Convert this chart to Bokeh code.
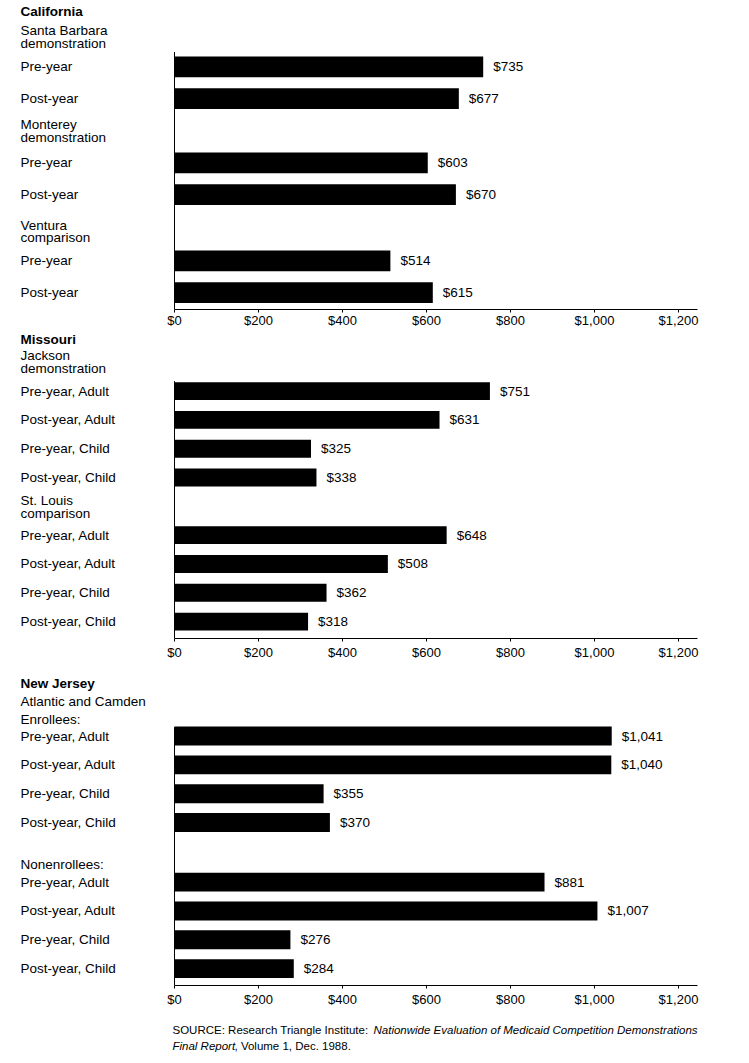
from bokeh.plotting import figure
from bokeh.layouts import column
from bokeh.models import Range1d, LinearAxis, NumeralTickFormatter, FixedTicker, ColumnDataSource
from bokeh.core.properties import value
from bokeh.embed import file_html
from bokeh.resources import INLINE

# ---------------- data ----------------
CA_TITLE = "California"
CA_GROUPS = [["Santa Barbara", "demonstration"], ["Monterey", "demonstration"], ["Ventura", "comparison"]]
CA_CATS = ["Pre-year", "Post-year"]
CA_VALUES = [[735, 677], [603, 670], [514, 615]]

MO_TITLE = "Missouri"
MO_GROUPS = [["Jackson", "demonstration"], ["St. Louis", "comparison"]]
MO_CATS = ["Pre-year, Adult", "Post-year, Adult", "Pre-year, Child", "Post-year, Child"]
MO_VALUES = [[751, 631, 325, 338], [648, 508, 362, 318]]

NJ_TITLE = "New Jersey"
NJ_SUBTITLE = "Atlantic and Camden"
NJ_GROUPS = [["Enrollees:"], ["Nonenrollees:"]]
NJ_CATS = ["Pre-year, Adult", "Post-year, Adult", "Pre-year, Child", "Post-year, Child"]
NJ_VALUES = [[1041, 1040, 355, 370], [881, 1007, 276, 284]]

TICKS = [0, 200, 400, 600, 800, 1000, 1200]

SOURCE_1A = "SOURCE: Research Triangle Institute:"
SOURCE_1B = "Nationwide Evaluation of Medicaid Competition Demonstrations"
SOURCE_2A = "Final Report"
SOURCE_2B = ", Volume 1, Dec. 1988."

# ---------------- layout / style ----------------
W = 749
FONT = "Liberation Sans"
FS = "13.5px"
TICK_FS = "13px"
ZERO_PX = 174
PX_PER_DOLLAR = 0.42
X_START = -ZERO_PX / PX_PER_DOLLAR
X_END = (W - ZERO_PX) / PX_PER_DOLLAR
AXIS_END = 1245
LABEL_PX = 20

CA_LAYOUT = dict(top=0, bottom=330, axis_y=312, standoff=0, title_y=11, sub_y=None,
                 header_ys=[[30, 43], [125, 138], [227, 239]],
                 bar_first=[67, 164, 263], bar_step=32, bar_h=21, vline_top=52)
MO_LAYOUT = dict(top=330, bottom=662, axis_y=640, standoff=3, title_y=339, sub_y=None,
                 header_ys=[[355, 368], [501, 514]],
                 bar_first=[391, 536], bar_step=29, bar_h=18, vline_top=381)
NJ_LAYOUT = dict(top=662, bottom=1009, axis_y=987, standoff=3, title_y=683, sub_y=701,
                 header_ys=[[719], [865]],
                 bar_first=[736, 883], bar_step=29, bar_h=19, vline_top=727)


def txt(p, x, y, text, x_offset=0, style="normal", size=FS):
    p.text(x=[x], y=[y], text=[text], x_offset=x_offset, text_align="left",
           text_baseline="middle", text_font=value(FONT), text_font_size=size,
           text_font_style=style, text_color="black")


def make_panel(title, subtitle, groups, cats, values, L):
    p = figure(width=W, height=L["bottom"] - L["top"],
               x_range=Range1d(X_START, X_END), y_range=Range1d(L["axis_y"], L["top"]),
               output_backend="svg", toolbar_location=None,
               x_axis_location=None, y_axis_location=None,
               min_border_left=0, min_border_right=0, min_border_top=0,
               min_border_bottom=L["bottom"] - L["axis_y"])
    p.grid.visible = False
    p.outline_line_color = None
    p.background_fill_color = "white"
    p.border_fill_color = "white"

    txt(p, X_START, L["title_y"], title, LABEL_PX, "bold")
    if subtitle:
        txt(p, X_START, L["sub_y"], subtitle, LABEL_PX)

    ys, vs, labs, cs = [], [], [], []
    for gi, (hdr, vals) in enumerate(zip(groups, values)):
        for line, hy in zip(hdr, L["header_ys"][gi]):
            txt(p, X_START, hy, line, LABEL_PX)
        for ci, (c, v) in enumerate(zip(cats, vals)):
            ys.append(L["bar_first"][gi] + ci * L["bar_step"])
            vs.append(v)
            cs.append(c)
            labs.append("${:,}".format(v))
    src = ColumnDataSource(dict(y=ys, v=vs, t=labs, c=cs, x0=[X_START] * len(ys)))
    p.hbar(y="y", left=0, right="v", height=L["bar_h"], fill_color="black",
           line_color=None, source=src)
    p.text(x="v", y="y", text="t", x_offset=10, text_align="left", text_baseline="middle",
           text_font=value(FONT), text_font_size=FS, text_color="black", source=src)
    p.text(x="x0", y="y", text="c", x_offset=LABEL_PX, text_align="left", text_baseline="middle",
           text_font=value(FONT), text_font_size=FS, text_color="black", source=src)
    p.segment(x0=[0], y0=[L["vline_top"]], x1=[0], y1=[L["axis_y"]], line_color="black", line_width=1)

    ax = LinearAxis(ticker=FixedTicker(ticks=TICKS), formatter=NumeralTickFormatter(format="$0,0"),
                    bounds=(0, AXIS_END))
    ax.axis_line_color = "black"
    ax.axis_line_width = 1
    ax.major_tick_in = 0
    ax.major_tick_out = 3
    ax.minor_tick_line_color = None
    ax.major_label_standoff = L["standoff"]
    ax.major_label_text_font = FONT
    ax.major_label_text_font_size = TICK_FS
    ax.major_label_text_color = "black"
    p.add_layout(ax, "below")
    return p


p1 = make_panel(CA_TITLE, None, CA_GROUPS, CA_CATS, CA_VALUES, CA_LAYOUT)
p2 = make_panel(MO_TITLE, None, MO_GROUPS, MO_CATS, MO_VALUES, MO_LAYOUT)
p3 = make_panel(NJ_TITLE, NJ_SUBTITLE, NJ_GROUPS, NJ_CATS, NJ_VALUES, NJ_LAYOUT)

# source note
top4, bot4 = 1009, 1058
p4 = figure(width=W, height=bot4 - top4, x_range=Range1d(0, W), y_range=Range1d(bot4, top4),
            output_backend="svg", toolbar_location=None,
            x_axis_location=None, y_axis_location=None,
            min_border_left=0, min_border_right=0, min_border_top=0, min_border_bottom=0)
p4.grid.visible = False
p4.outline_line_color = None
SFS = "11.5px"
SRC_X = 172
txt(p4, SRC_X, 1029, SOURCE_1A, 0, "normal", SFS)
txt(p4, SRC_X + 201, 1029, SOURCE_1B, 0, "italic", SFS)
txt(p4, SRC_X, 1045, SOURCE_2A, 0, "italic", SFS)
txt(p4, SRC_X + 62, 1045, SOURCE_2B, 0, "normal", SFS)

layout = column(p1, p2, p3, p4, spacing=0)
open("out.html", "w").write(file_html(layout, INLINE))
